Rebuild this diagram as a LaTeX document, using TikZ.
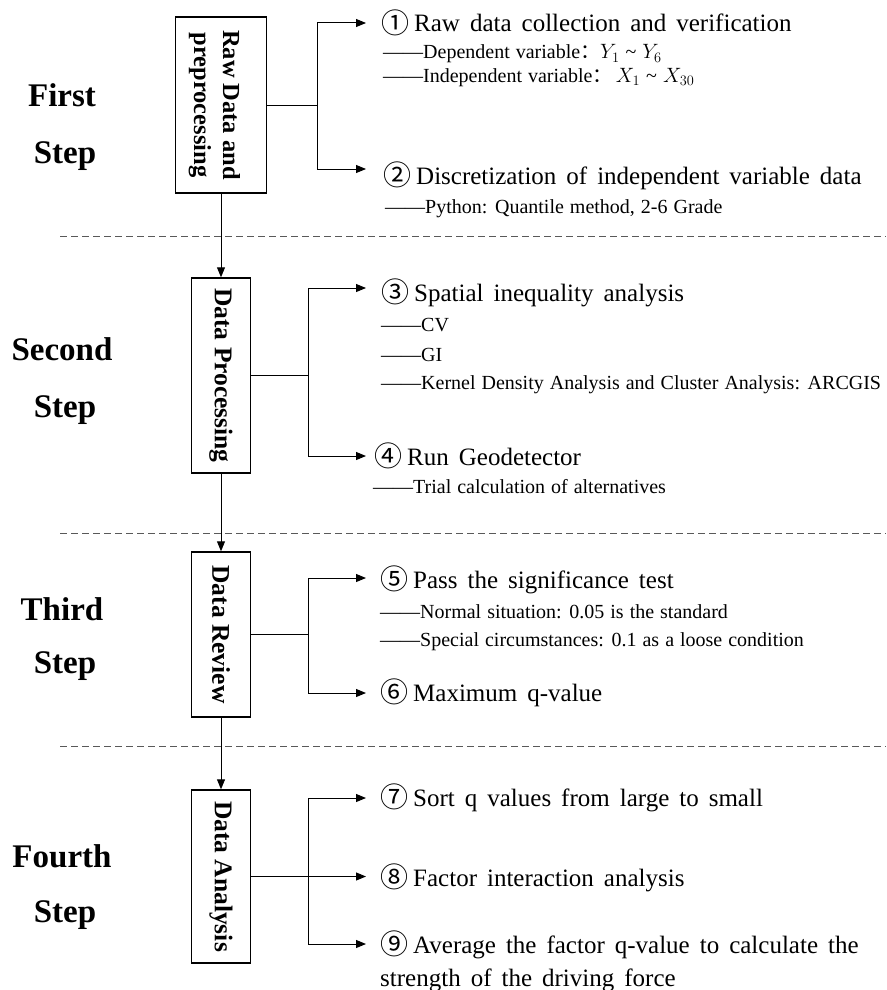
\documentclass[tikz,border=0pt]{standalone}
\usepackage{fontspec}
\setmainfont{Liberation Serif}
\newfontfamily\cjk{Noto Sans CJK SC}
\usetikzlibrary{arrows.meta}
\newcommand{\cn}[1]{\raisebox{-1.5pt}{\fontsize{28}{30}\selectfont\cjk #1}\hspace{5pt}}
\newcommand{\itemfont}{\fontsize{25}{30}\selectfont\spaceskip=10pt plus 2pt minus 1pt\relax}
\newcommand{\subfont}{\fontsize{20}{24}\selectfont\spaceskip=6pt plus 1pt minus 1pt\relax}
\begin{document}
\begin{tikzpicture}[x=1pt,y=-1pt,
  stepl/.style={font=\fontsize{33}{36}\selectfont\bfseries, anchor=base, inner sep=0pt},
  stagebox/.style={draw, line width=1.4pt, inner sep=0pt, align=center,
    font=\fontsize{25.5}{33}\selectfont\bfseries},
  item/.style={font=\itemfont, anchor=base west, inner sep=0pt},
  sub/.style={font=\subfont, anchor=base west, inner sep=0pt},
  conn/.style={line width=1pt},
  arr/.style={line width=1pt, -{Triangle[length=10pt,width=8pt]}},
  sep/.style={line width=1pt, draw=black!65, dash pattern=on 7pt off 4pt}]
\useasboundingbox (0,0) rectangle (886,990);
\fill[white] (0,0) rectangle (886,990);

% step labels
\node[stepl] (s1a) at (62,106) {First};
\node[stepl] (s1b) at (65,163) {Step};
\node[stepl] (s2a) at (62,360) {Second};
\node[stepl] (s2b) at (65,417) {Step};
\node[stepl] (s3a) at (62,620) {Third};
\node[stepl] (s3b) at (65,673) {Step};
\node[stepl] (s4a) at (62,867) {Fourth};
\node[stepl] (s4b) at (65,922) {Step};

% separators
\draw[sep] (60,236) -- (886,236);
\draw[sep] (60,533) -- (886,533);
\draw[sep] (60,746) -- (886,746);

% stage boxes
\node[stagebox, font=\fontsize{24.5}{32}\selectfont\bfseries, minimum width=91pt, minimum height=176pt] (b1) at (221,105)
  {\hspace*{-12pt}\rotatebox{-90}{\begin{tabular}{@{}c@{}}Raw Data and\\[-3pt]preprocessing\end{tabular}}};
\node[stagebox, minimum width=59pt, minimum height=195pt] (b2) at (221,375.5)
  {\rotatebox{-90}{Data Processing}};
\node[stagebox, minimum width=59pt, minimum height=165pt] (b3) at (221,634.5)
  {\rotatebox{-90}{Data Review}};
\node[stagebox, minimum width=59pt, minimum height=173pt] (b4) at (221,876.5)
  {\rotatebox{-90}{Data Analysis}};

\draw[arr] (b1.south) -- (b2.north);
\draw[arr] (b2.south) -- (b3.north);
\draw[arr] (b3.south) -- (b4.north);

% branch points and arrow tips
\coordinate (j1) at (317,105);
\coordinate (a1) at (366,23);
\coordinate (a2) at (366,169);
\coordinate (j2) at (308,375.5);
\coordinate (a3) at (366,288);
\coordinate (a4) at (366,456);
\coordinate (j3) at (308,634.5);
\coordinate (a5) at (366,578);
\coordinate (a6) at (366,693);
\coordinate (j4) at (308,876.5);
\coordinate (a7) at (366,798);
\coordinate (a8) at (366,876.5);
\coordinate (a9) at (366,944);

\draw[conn] (b1.east) -- (j1);
\draw[arr] (j1) |- (a1);
\draw[arr] (j1) |- (a2);
\draw[conn] (b2.east) -- (j2);
\draw[arr] (j2) |- (a3);
\draw[arr] (j2) |- (a4);
\draw[conn] (b3.east) -- (j3);
\draw[arr] (j3) |- (a5);
\draw[arr] (j3) |- (a6);
\draw[conn] (b4.east) -- (j4);
\draw[arr] (j4) -- (a8);
\draw[arr] (j4) |- (a7);
\draw[arr] (j4) |- (a9);

% items
\node[item] (t1) at (381,32) {\cn{①}Raw data collection and verification};
\node[sub] (t1a) at (383,59) {——Dependent variable{\cjk ：}$Y_1$ \textasciitilde{} $Y_6$};
\node[sub] (t1b) at (383,82) {——Independent variable{\cjk ：}\,$X_1$ \textasciitilde{} $X_{30}$};
\node[item] (t2) at (383,184) {\cn{②}Discretization of independent variable data};
\node[sub] (t2a) at (385,213) {——Python: Quantile method, 2-6 Grade};

\node[item] (t3) at (381,301) {\cn{③}Spatial inequality analysis};
\node[sub] (t3a) at (381,331) {——CV};
\node[sub] (t3b) at (381,361) {——GI};
\node[sub] (t3c) at (381,389) {——Kernel Density Analysis and Cluster Analysis: ARCGIS};
\node[item] (t4) at (374,465) {\cn{④}Run Geodetector};
\node[sub] (t4a) at (373,493) {——Trial calculation of alternatives};

\node[item] (t5) at (380,588) {\cn{⑤}Pass the significance test};
\node[sub] (t5a) at (380,618) {——Normal situation: 0.05 is the standard};
\node[sub] (t5b) at (380,646) {——Special circumstances: 0.1 as a loose condition};
\node[item] (t6) at (380,701) {\cn{⑥}Maximum q-value};

\node[item] (t7) at (380,806) {\cn{⑦}Sort q values from large to small};
\node[item] (t8) at (380,886) {\cn{⑧}Factor interaction analysis};
\node[item] (t9) at (380,953) {\cn{⑨}Average the factor q-value to calculate the};
\node[item] (t9b) at (380,986) {strength of the driving force};
\end{tikzpicture}
\end{document}
